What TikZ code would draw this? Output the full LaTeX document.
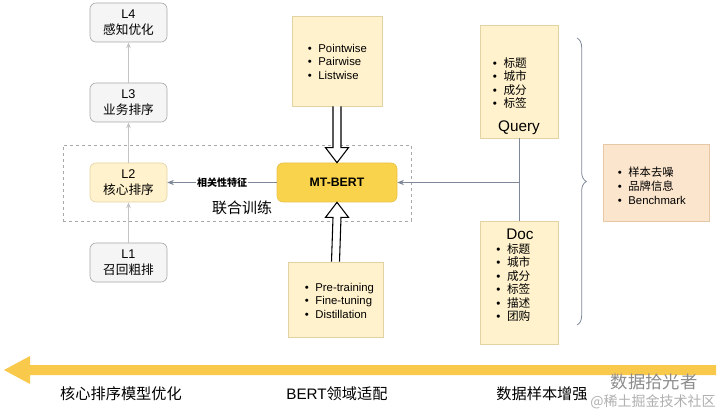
\documentclass[tikz,border=0pt]{standalone}
\usepackage{fontspec}
\setmainfont{Liberation Sans}
\newfontfamily\cjk{Noto Sans CJK SC}
\usetikzlibrary{arrows.meta,calc,decorations.pathreplacing}
\definecolor{grayfill}{HTML}{F5F5F5}
\definecolor{grayline}{HTML}{A8A8A8}
\definecolor{yfill}{HTML}{FFF2CC}
\definecolor{yline}{HTML}{E3D3A3}
\definecolor{bertfill}{HTML}{F9D34B}
\definecolor{bertline}{HTML}{E9C24A}
\definecolor{ofill}{HTML}{FCE5CD}
\definecolor{oline}{HTML}{E6C8A6}
\definecolor{conn}{HTML}{7F8898}
\definecolor{lconn}{HTML}{C4C4C4}
\definecolor{bigarrow}{HTML}{F8C94A}
\definecolor{wm}{HTML}{8C8C8C}
\definecolor{wmlight}{HTML}{B0B0B0}
\newcommand{\itm}[1]{\textbullet\hspace{5pt}#1}
\newcommand{\citm}[1]{\textbullet\hspace{5pt}{\cjk #1}}
\begin{document}
\begin{tikzpicture}[x=0.75pt,y=-0.75pt,
  lbox/.style={draw=grayline, fill=grayfill, rounded corners=4.5pt, minimum width=57.75pt, minimum height=29.25pt, align=center, font=\fontsize{9.5}{11.5}\selectfont, inner sep=0pt, line width=0.5pt},
  l2box/.style={lbox, draw=yline, fill=yfill},
  bertbox/.style={draw=bertline, fill=bertfill, rounded corners=4.5pt, minimum width=90pt, minimum height=29.25pt, font=\bfseries\fontsize{9.2}{11}\selectfont, inner sep=0pt, line width=0.5pt},
  ybox/.style={draw=yline, fill=yfill, inner sep=0pt, line width=0.5pt},
  obox/.style={draw=oline, fill=ofill, inner sep=0pt, line width=0.5pt},
  itemlist/.style={align=left, inner sep=0pt, anchor=west, font=\fontsize{8.5}{10.1}\selectfont},
  lconnector/.style={draw=lconn, line width=0.6pt, -{Stealth[length=4.5pt,width=3.5pt]}},
  connector/.style={draw=conn, line width=0.7pt},
  blockarrow/.style={draw=black, fill=white, line width=0.8pt, line join=miter},
  bottomlabel/.style={font=\cjk\fontsize{11.4}{13}\selectfont, inner sep=0pt}
]
\useasboundingbox (0,0) rectangle (720,413);
\fill[white] (0,0) rectangle (720,413);

% dashed joint-training frame
\node[draw=grayline, dashed, dash pattern=on 2.5pt off 2pt, line width=0.5pt, minimum width=261pt, minimum height=57pt, inner sep=0pt] (joint) at (237,183) {};

% level boxes
\node[lbox] (l4) at (128.5,22.5) {L4\\\cjk 感知优化};
\node[lbox] (l3) at (128.5,102.5) {L3\\\cjk 业务排序};
\node[l2box] (l2) at (128.5,182.5) {L2\\\cjk 核心排序};
\node[lbox] (l1) at (128.5,262.5) {L1\\\cjk 召回粗排};
\draw[lconnector] (l3) -- (l4);
\draw[lconnector] (l2) -- (l3);
\draw[lconnector] (l1) -- (l2);

% MT-BERT
\node[bertbox] (bert) at (337,182.5) {MT-BERT};
\draw[connector, -{Stealth[length=5pt,width=4pt]}] (bert.west) -- node[fill=white, inner sep=1pt, font=\cjk\bfseries\fontsize{7.5}{9}\selectfont] (rel) {相关性特征} (l2.east);
\node[font=\cjk\fontsize{11.25}{13}\selectfont, inner sep=0pt] (jlabel) at (242,208) {联合训练};

% loss box
\node[ybox, minimum width=67.5pt, minimum height=67.5pt] (pw) at (337,61) {};
\node[itemlist] (pwl) at (307.5,61.5) {\itm{Pointwise}\\\itm{Pairwise}\\\itm{Listwise}};
% training box
\node[ybox, minimum width=71.25pt, minimum height=56.25pt] (pt) at (335.5,299.5) {};
\node[itemlist] (ptl) at (304.5,300.5) {\itm{Pre-training}\\\itm{Fine-tuning}\\\itm{Distillation}};

% block arrows
\draw[blockarrow] ($(pw.south)+(-4,0)$) -- ($(bert.north)+(-4,-15)$) -- ($(bert.north)+(-11.5,-15)$) -- (bert.north) -- ($(bert.north)+(11.5,-15)$) -- ($(bert.north)+(4,-15)$) -- ($(pw.south)+(4,0)$);
\draw[blockarrow] ($(pt.north)+(-4,0)$) -- ($(bert.south)+(-4,15)$) -- ($(bert.south)+(-11.5,15)$) -- (bert.south) -- ($(bert.south)+(11.5,15)$) -- ($(bert.south)+(4,15)$) -- ($(pt.north)+(4,0)$);

% Query and Doc
\node[ybox, minimum width=58.5pt, minimum height=84.75pt] (q) at (519,81.5) {};
\node[itemlist, font=\fontsize{8.75}{10.1}\selectfont] (ql) at (492.5,83) {\citm{标题}\\\citm{城市}\\\citm{成分}\\\citm{标签}};
\node[font=\fontsize{11.5}{13}\selectfont, inner sep=0pt] (qt) at (519,128) {Query};
\node[ybox, minimum width=58.5pt, minimum height=92.25pt] (d) at (519,282.5) {};
\node[font=\fontsize{11.5}{13}\selectfont, inner sep=0pt] (dt) at (520,234) {Doc};
\node[itemlist, font=\fontsize{8.75}{10.05}\selectfont] (dl) at (496,282.5) {\citm{标题}\\\citm{城市}\\\citm{成分}\\\citm{标签}\\\citm{描述}\\\citm{团购}};
\coordinate (j) at (q.south |- bert.east);
\draw[connector] (q.south) -- (d.north);
\draw[connector, -{Stealth[length=5pt,width=4pt]}] (j) -- (bert.east);

% big brace
\coordinate (bt) at (577,38);
\coordinate (bb) at (577,325);
\draw[draw=conn, line width=0.6pt, decorate, decoration={brace, amplitude=7pt}] (bt) -- (bb);

% data box
\node[obox, minimum width=79.5pt, minimum height=57.75pt] (dn) at (656,182.5) {};
\node[itemlist, font=\fontsize{8.5}{10.5}\selectfont] (dnl) at (617.5,186) {\citm{样本去噪}\\\citm{品牌信息}\\\itm{Benchmark}};

% bottom timeline arrow
\fill[bigarrow] (716,365) -- (30,365) -- (30,356) -- (4,370) -- (30,384) -- (30,375) -- (716,375) -- cycle;
\node[bottomlabel] (b1) at (121,394) {核心排序模型优化};
\node[bottomlabel] (b2) at (337,394) {\normalfont\fontsize{11.4}{13}\selectfont BERT\cjk 领域适配};
\node[bottomlabel] (b3) at (542,394) {数据样本增强};

% watermark
\node[font=\cjk\fontsize{13}{15}\selectfont, text=wm, inner sep=0pt] (wm1) at (654,382) {数据拾光者};
\node[font=\cjk\fontsize{10.5}{12}\selectfont, text=wmlight, inner sep=0pt] (wm2) at (653,402) {@稀土掘金技术社区};
\end{tikzpicture}
\end{document}
